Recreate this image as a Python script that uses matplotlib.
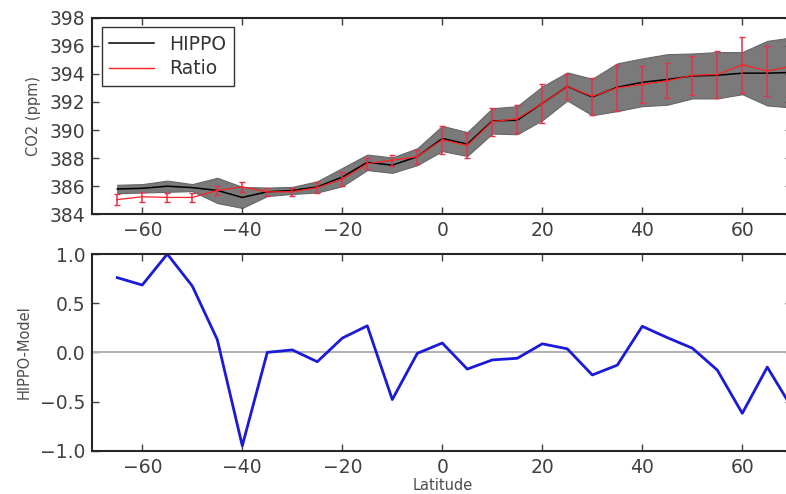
import numpy as np
import matplotlib
matplotlib.use('Agg')
import matplotlib.pyplot as plt

# latitude bands (deg)
lats = [-65, -60, -55, -50, -45, -40, -35, -30, -25, -20, -15, -10, -5, 0,
        5, 10, 15, 20, 25, 30, 35, 40, 45, 50, 55, 60, 65, 70]

# HIPPO mean CO2 and spread (ppm)
hippo = [385.8, 385.85, 386.0, 385.9, 385.7, 385.2, 385.6, 385.7, 385.95, 386.65,
         387.7, 387.5, 388.1, 389.4, 389.0, 390.65, 390.7, 391.9, 393.1, 392.35,
         393.05, 393.4, 393.6, 393.85, 393.9, 394.05, 394.05, 394.1]
hippo_sd = [0.3, 0.3, 0.4, 0.25, 0.9, 0.75, 0.3, 0.25, 0.4, 0.65,
            0.55, 0.55, 0.6, 0.9, 0.85, 0.9, 1.0, 1.2, 1.0, 1.3,
            1.7, 1.7, 1.8, 1.6, 1.65, 1.5, 2.3, 2.5]

# ratio model CO2 and error (ppm)
ratio = [385.05, 385.25, 385.2, 385.2, 385.7, 385.95, 385.6, 385.6, 385.9, 386.5,
         387.6, 387.85, 388.1, 389.3, 388.9, 390.6, 390.8, 391.9, 393.1, 392.4,
         393.0, 393.25, 393.5, 393.9, 393.95, 394.65, 394.2, 394.55]
ratio_err = [0.38, 0.35, 0.35, 0.35, 0.35, 0.35, 0.3, 0.3, 0.4, 0.5,
             0.4, 0.4, 0.5, 1.0, 0.9, 1.0, 1.0, 1.4, 0.9, 1.3,
             1.65, 1.3, 1.25, 1.4, 1.65, 2.0, 1.8, 1.8]

# HIPPO minus model
diff = [0.76, 0.685, 1.0, 0.675, 0.13, -0.95, 0.0, 0.025, -0.095, 0.145,
        0.27, -0.48, -0.01, 0.095, -0.17, -0.077, -0.06, 0.087, 0.036, -0.23,
        -0.13, 0.265, 0.15, 0.043, -0.18, -0.62, -0.15, -0.57]

lat = np.array(lats)
h = np.array(hippo)
hs = np.array(hippo_sd)

fig = plt.figure(figsize=(7.86, 4.94), dpi=100)
ax1 = fig.add_axes([0.1174, 0.5662, 0.8906, 0.398])
ax2 = fig.add_axes([0.1174, 0.0877, 0.8906, 0.398])

ax1.fill_between(lat, h - hs, h + hs, color='0.48', edgecolor='0.4', lw=0.8)
ax1.plot(lat, h, color='k', lw=1.1, label='HIPPO')
ax1.errorbar(lat, ratio, yerr=ratio_err, color='#ff2020', lw=0.9,
             elinewidth=1.1, capsize=2.5, ecolor='#e8304a',
             label='_nolegend_')
ax1.plot([], [], color='#ff2020', lw=1.0, label='Ratio')
ax1.set_xlim(-70, 70)
ax1.set_ylim(384, 398)
ax1.set_yticks(np.arange(384, 399, 2))
ax1.set_ylabel('CO2 (ppm)', fontsize=10.5, color='0.3', labelpad=6)
leg = ax1.legend(loc='upper left', fontsize=13.5, handlelength=2.4,
                 fancybox=False, framealpha=1, borderaxespad=0.5,
                 handletextpad=0.8, labelspacing=0.3)
leg.get_frame().set_edgecolor('0.2')
leg.get_frame().set_linewidth(1.0)
for t in leg.get_texts():
    t.set_color('0.2')

ax2.axhline(0, color='0.7', lw=1.5)
ax2.plot(lat, diff, color='#1a1ad8', lw=2)
ax2.set_xlim(-70, 70)
ax2.set_ylim(-1, 1)
ax2.set_yticks([-1.0, -0.5, 0.0, 0.5, 1.0])
ax2.set_ylabel('HIPPO-Model', fontsize=10.5, color='0.3', labelpad=6)
ax2.set_xlabel('Latitude', fontsize=10.5, color='0.3', labelpad=1)

for ax in (ax1, ax2):
    ax.set_xticks([-60, -40, -20, 0, 20, 40, 60])
    ax.tick_params(direction='in', top=True, right=True, length=5,
                   width=1, labelsize=13.5, colors='0.25', pad=5)
    for s in ax.spines.values():
        s.set_linewidth(1.5)
        s.set_color('0.15')

fig.savefig('out.png', dpi=100)
